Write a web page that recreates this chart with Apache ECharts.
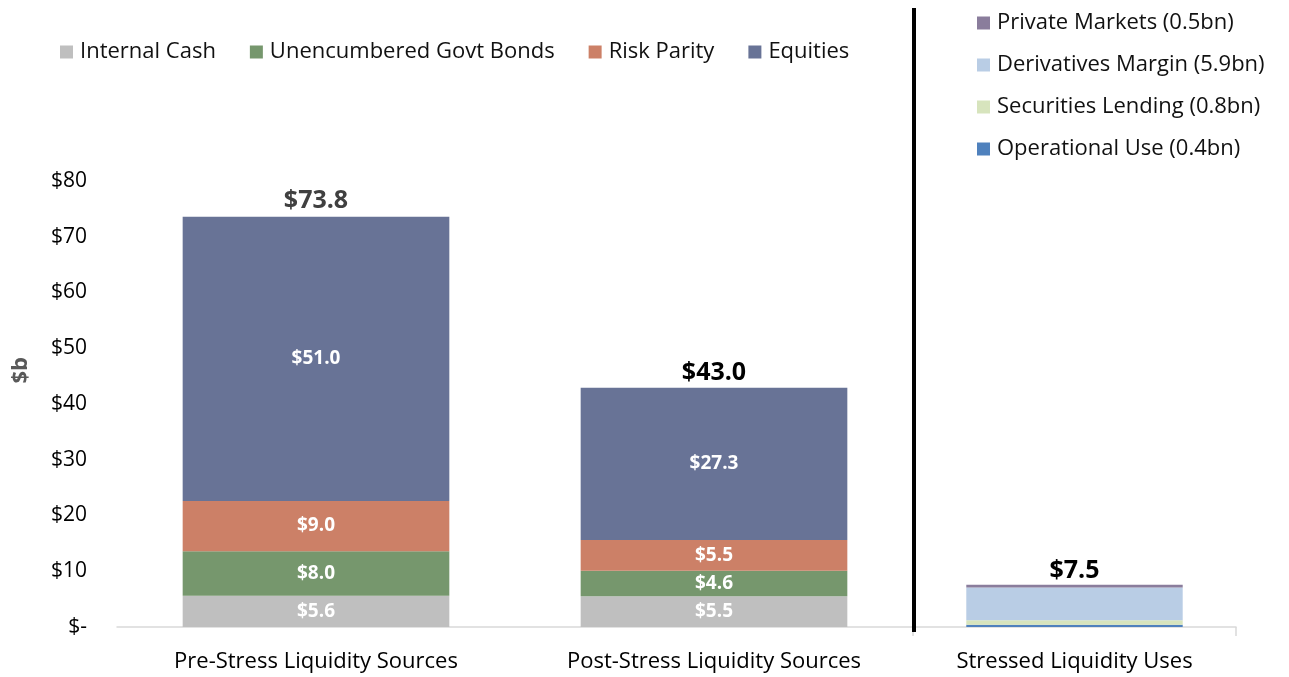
<!DOCTYPE html>
<html>
<head>
<meta charset="utf-8">
<script src="https://cdn.jsdelivr.net/npm/echarts@6/dist/echarts.min.js"></script>
<style>html,body{margin:0;padding:0;background:#fff}#c{width:1289px;height:677px}</style>
</head>
<body>
<div id="c"></div>
<script>
// ---- data ----
const sourceCategories = ['Pre-Stress Liquidity Sources', 'Post-Stress Liquidity Sources'];
const useCategories = ['Stressed Liquidity Uses'];
const internalCash = [5.6, 5.5];
const govtBonds = [8.0, 4.6];
const riskParity = [9.0, 5.5];
const equities = [51.0, 27.3];
const sourceTotals = [73.8, 43.0];
const operationalUse = [0.4];
const securitiesLending = [0.8];
const derivativesMargin = [5.9];
const privateMarkets = [0.5];
const useTotals = [7.5];
const yTicks = [0, 10, 20, 30, 40, 50, 60, 70, 80];

const FONT = '"Open Sans", Lato, sans-serif';
const labelInside = {
  show: true, position: 'inside', color: '#fff', fontWeight: 'bold',
  fontSize: 19, fontFamily: FONT,
  formatter: p => '$' + Number(p.value).toFixed(1)
};

function segment(name, data, color, gi, withLabel) {
  return {
    name, type: 'bar', stack: 'st' + gi, xAxisIndex: gi, yAxisIndex: gi,
    data, barWidth: '67%', itemStyle: { color },
    label: withLabel ? labelInside : { show: false },
    emphasis: { disabled: true }
  };
}
function totals(name, data, gi, colors) {
  return {
    name, type: 'bar', xAxisIndex: gi, yAxisIndex: gi, barGap: '-100%', barWidth: '67%',
    data: data.map((v, i) => ({ value: v, label: { color: colors[i] } })),
    itemStyle: { color: 'rgba(0,0,0,0)' }, z: 1, silent: true,
    label: {
      show: true, position: 'top', distance: 2, fontSize: 25, fontWeight: 'bold',
      fontFamily: FONT, formatter: p => '$' + Number(p.value).toFixed(1)
    }
  };
}

const chart = echarts.init(document.getElementById('c'), null, { renderer: 'canvas' });
const axisLineStyle = { lineStyle: { color: '#d9d9d9', width: 1.5 } };
const legendText = { fontSize: 22, color: '#111', fontFamily: FONT, padding: [0, 0, 0, 2] };
chart.setOption({
  animation: false,
  textStyle: { fontFamily: FONT },
  grid: [
    { left: 117, width: 796, top: 181, height: 446 },
    { left: 913, width: 323, top: 181, height: 446 }
  ],
  xAxis: [
    { type: 'category', gridIndex: 0, data: sourceCategories, axisLine: axisLineStyle,
      axisTick: { show: false },
      axisLabel: { color: '#000', fontSize: 22, fontFamily: FONT, margin: 24 } },
    { type: 'category', gridIndex: 1, data: useCategories, axisLine: axisLineStyle,
      axisTick: { show: true, length: 9, lineStyle: { color: '#d9d9d9', width: 1.5 } },
      axisLabel: { color: '#000', fontSize: 22, fontFamily: FONT, margin: 24 } }
  ],
  yAxis: [
    { type: 'value', gridIndex: 0, min: yTicks[0], max: yTicks[yTicks.length - 1], interval: 10,
      splitLine: { show: false }, axisLine: { show: false }, axisTick: { show: false },
      axisLabel: { color: '#000', fontSize: 21, fontFamily: FONT, margin: 30,
        formatter: v => v === 0 ? '$-' : '$' + v } },
    { type: 'value', gridIndex: 1, min: yTicks[0], max: yTicks[yTicks.length - 1], interval: 10,
      show: false, splitLine: { show: false } }
  ],
  legend: [
    { left: 60, top: 41, padding: 0, itemWidth: 13, itemHeight: 13, itemGap: 34, icon: 'rect',
      textStyle: legendText,
      data: ['Internal Cash', 'Unencumbered Govt Bonds', 'Risk Parity', 'Equities'] },
    { left: 977, top: 12, padding: 0, orient: 'vertical', itemWidth: 13, itemHeight: 13, itemGap: 20, icon: 'rect',
      textStyle: legendText,
      data: ['Private Markets (0.5bn)', 'Derivatives Margin (5.9bn)', 'Securities Lending (0.8bn)', 'Operational Use (0.4bn)'] }
  ],
  graphic: [
    { type: 'rect', left: 912, top: 8, shape: { width: 4, height: 624 }, style: { fill: '#000' }, z: 10 },
    { type: 'text', left: 10, top: 357, rotation: Math.PI / 2,
      style: { text: '$b', fontSize: 22, fontWeight: 'bold', fill: '#595959', fontFamily: FONT } }
  ],
  series: [
    segment('Internal Cash', internalCash, '#bfbfbf', 0, true),
    segment('Unencumbered Govt Bonds', govtBonds, '#76976d', 0, true),
    segment('Risk Parity', riskParity, '#cc8067', 0, true),
    segment('Equities', equities, '#687396', 0, true),
    totals('TotalSources', sourceTotals, 0, ['#404040', '#000']),
    segment('Operational Use (0.4bn)', operationalUse, '#4f81bd', 1, false),
    segment('Securities Lending (0.8bn)', securitiesLending, '#d7e4bd', 1, false),
    segment('Derivatives Margin (5.9bn)', derivativesMargin, '#b9cde5', 1, false),
    segment('Private Markets (0.5bn)', privateMarkets, '#8a7d9c', 1, false),
    totals('TotalUses', useTotals, 1, ['#000'])
  ]
});
</script>
</body>
</html>
